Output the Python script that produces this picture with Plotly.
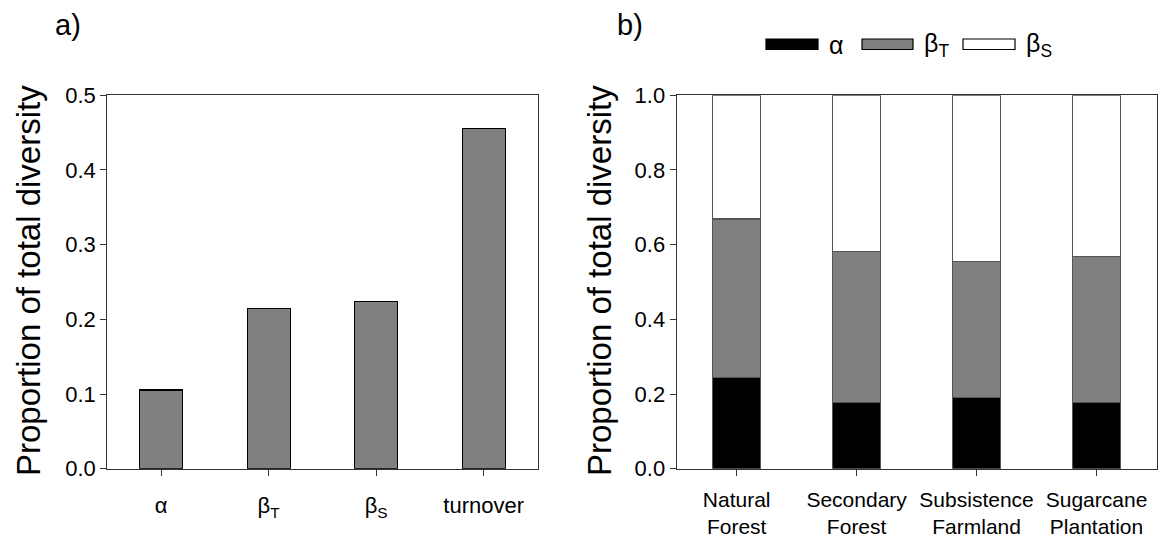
import plotly.graph_objects as go
from plotly.subplots import make_subplots

# ---- data ----
components = ["α", "β<sub>T</sub>", "β<sub>S</sub>", "turnover"]
component_values = [0.1055, 0.2147, 0.224, 0.4554]

land_uses = ["Natural<br>Forest", "Secondary<br>Forest", "Subsistence<br>Farmland", "Sugarcane<br>Plantation"]
alpha_vals = [0.2435, 0.1775, 0.1915, 0.178]
betaT_vals = [0.4255, 0.4035, 0.3635, 0.391]
betaS_vals = [0.331, 0.419, 0.445, 0.431]
series_names = ["α", "β<sub>T</sub>", "β<sub>S</sub>"]

W, H = 1158, 543
FONT = "Liberation Sans, Arial, sans-serif"

def px(x):
    return x / W

def py(y):
    return 1 - y / H

fig = make_subplots(rows=1, cols=2)

fig.add_trace(go.Bar(x=components, y=component_values, width=0.4,
                     marker=dict(color="#808080", line=dict(color="#000000", width=1.2)),
                     showlegend=False), row=1, col=1)

colors = ["#000000", "#808080", "#ffffff"]
for name, vals, c in zip(series_names, [alpha_vals, betaT_vals, betaS_vals], colors):
    fig.add_trace(go.Bar(x=land_uses, y=vals, name=name, width=0.4,
                         marker=dict(color=c, line=dict(color="#555555", width=1.2)),
                         showlegend=False), row=1, col=2)

fig.update_layout(barmode="stack")

ydom = [py(468.7), py(95.3)]
axis_common = dict(showline=True, linecolor="#333333", linewidth=1.3, mirror=True,
                   ticks="outside", ticklen=6, tickwidth=1.2, tickcolor="#333333",
                   showgrid=False, zeroline=False, automargin=False,
                   tickfont=dict(family=FONT, size=22, color="#000000"))

fig.update_xaxes(axis_common, row=1, col=1, domain=[px(107.3), px(537.5)], range=[-0.5, 3.5],
                 tickangle=0, ticklabelstandoff=11)
fig.update_xaxes(axis_common, row=1, col=2, domain=[px(676.7), px(1156.5)], range=[-0.5, 3.5],
                 tickangle=0, ticklabelstandoff=6,
                 tickfont=dict(family=FONT, size=21, color="#000000"))
fig.update_yaxes(axis_common, row=1, col=1, domain=ydom, range=[0, 0.5], dtick=0.1, tickformat=".1f")
fig.update_yaxes(axis_common, row=1, col=2, domain=ydom, range=[0, 1.0], dtick=0.2, tickformat=".1f")

annotations = [
    dict(text="Proportion of total diversity", x=px(28), y=py(281), textangle=-90,
         xanchor="center", yanchor="middle",
         font=dict(family=FONT, size=33, color="#000000")),
    dict(text="Proportion of total diversity", x=px(599), y=py(281), textangle=-90,
         xanchor="center", yanchor="middle",
         font=dict(family=FONT, size=33, color="#000000")),
    dict(text="a)", x=px(53), y=py(25), xanchor="left", yanchor="middle",
         font=dict(family=FONT, size=29, color="#000000")),
    dict(text="b)", x=px(615), y=py(25), xanchor="left", yanchor="middle",
         font=dict(family=FONT, size=29, color="#000000")),
]
for a in annotations:
    a.update(xref="paper", yref="paper", showarrow=False)

# legend drawn as shapes + labels
shapes = []
legend_items = [(766, 818, 827), (862, 913, 922), (963, 1015, 1024)]
for (x0, x1, tx), name, c in zip(legend_items, series_names, colors):
    shapes.append(dict(type="rect", xref="paper", yref="paper",
                       x0=px(x0), x1=px(x1), y0=py(49.5), y1=py(39),
                       fillcolor=c, line=dict(color="#000000", width=1.2)))
    annotations.append(dict(text=name, x=px(tx), y=py(45), xanchor="left", yanchor="middle",
                            xref="paper", yref="paper", showarrow=False,
                            font=dict(family=FONT, size=25, color="#000000")))

fig.update_layout(width=W, height=H, margin=dict(l=0, r=0, t=0, b=0),
                  paper_bgcolor="white", plot_bgcolor="white",
                  annotations=annotations, shapes=shapes)

fig.write_html("out.html")
